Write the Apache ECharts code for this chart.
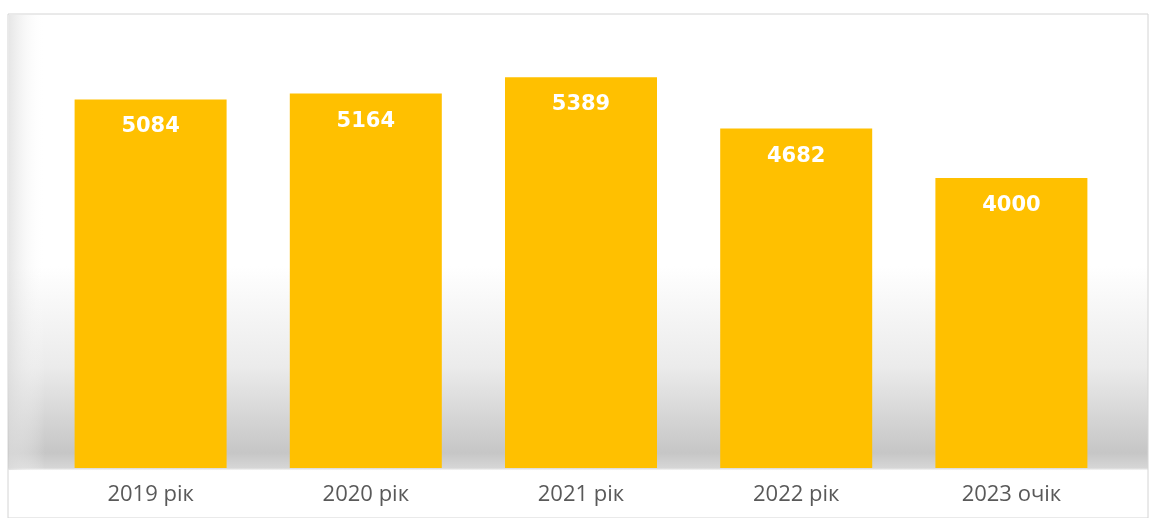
<!DOCTYPE html>
<html><head><meta charset="utf-8">
<script src="https://cdn.jsdelivr.net/npm/echarts@6/dist/echarts.min.js"></script>
<style>html,body{margin:0;padding:0;background:#fff}#c{width:1154px;height:518px}</style>
</head><body><div id="c"></div>
<script>
const categories = ['2019 рік', '2020 рік', '2021 рік', '2022 рік', '2023 очік'];
const values = [5084, 5164, 5389, 4682, 4000];

const chart = echarts.init(document.getElementById('c'));
chart.setOption({
  backgroundColor: '#ffffff',
  animation: false,
  graphic: [
    { type: 'rect', z: -10, shape: { x: 8, y: 14, width: 1140, height: 504 },
      style: { fill: { type: 'linear', x: 0, y: 0, x2: 0, y2: 1, colorStops: [
        { offset: 0, color: '#ffffff' }, { offset: 0.5, color: '#ffffff' },
        { offset: 0.7, color: '#ebebeb' }, { offset: 0.87, color: '#c6c6c6' },
        { offset: 0.9, color: '#d6d6d6' }, { offset: 0.905, color: '#ffffff' }, { offset: 1, color: '#ffffff' }] },
        stroke: '#d4d4d4', lineWidth: 1 } },
    { type: 'rect', z: -9, shape: { x: 9, y: 15, width: 36, height: 455 },
      style: { fill: { type: 'linear', x: 0, y: 0, x2: 1, y2: 0, colorStops: [
        { offset: 0, color: 'rgba(220,220,220,0.7)' }, { offset: 1, color: 'rgba(255,255,255,0)' }] } } }
  ],
  grid: { left: 43, right: 35, top: 33, bottom: 50 },
  xAxis: {
    type: 'category', data: categories,
    axisLine: { show: false }, axisTick: { show: false },
    axisLabel: { color: '#595959', fontSize: 22, fontFamily: 'Open Sans, DejaVu Sans, sans-serif', margin: 16 }
  },
  yAxis: { type: 'value', min: 0, max: 6000, show: false, splitLine: { show: false } },
  series: [{
    type: 'bar', data: values, barWidth: 152,
    itemStyle: { color: '#ffc000' },
    label: { show: true, position: 'insideTop', distance: 17, color: '#ffffff',
      fontSize: 21, fontWeight: 'bold', fontFamily: 'DejaVu Sans, sans-serif' }
  }]
});
</script></body></html>
